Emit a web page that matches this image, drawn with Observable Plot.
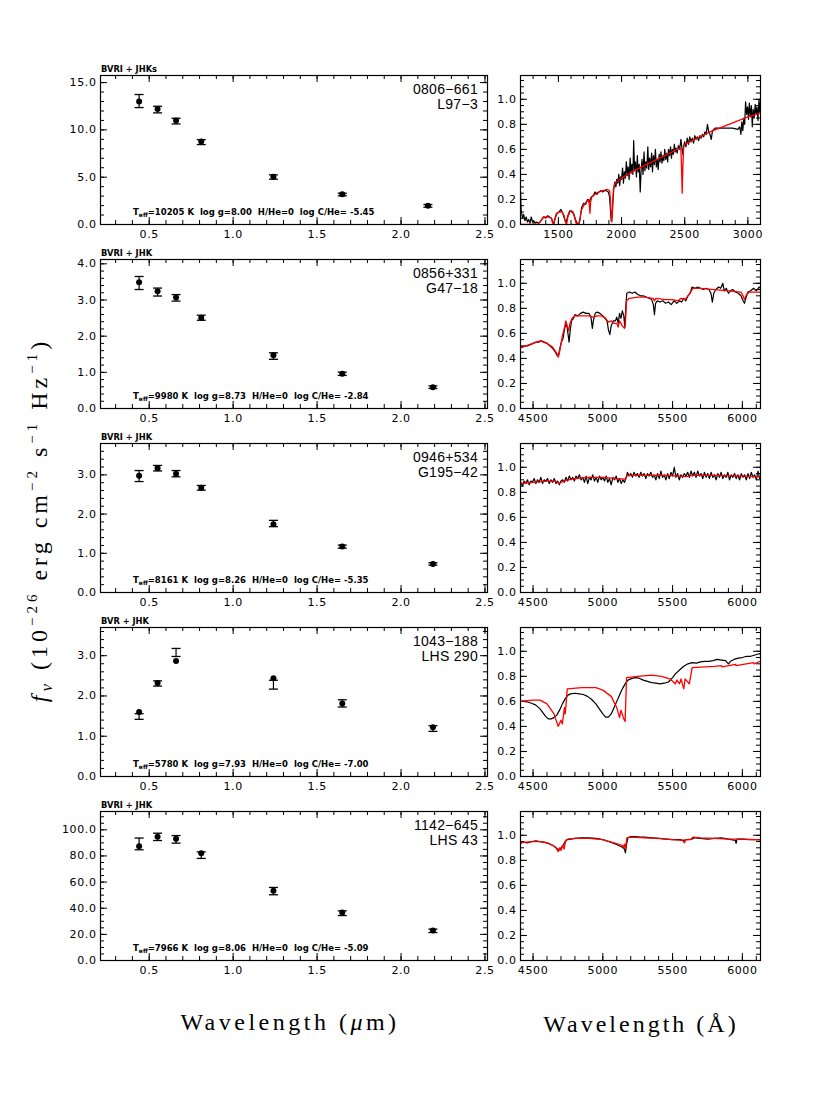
<!DOCTYPE html>
<html><head><meta charset="utf-8">
<script src="https://cdn.jsdelivr.net/npm/d3@7"></script>
<script src="https://cdn.jsdelivr.net/npm/@observablehq/plot@0.6"></script>
<style>
body{margin:0;background:#fff;}
#c{position:relative;width:830px;height:1106px;background:#fff;overflow:hidden;}
.plot{position:absolute;}
.band{position:absolute;font:bold 8.3px "DejaVu Sans",sans-serif;white-space:pre;}
.sid{position:absolute;font:14px "Liberation Sans",Arial,sans-serif;letter-spacing:0.3px;text-align:right;line-height:15px;}
.par{position:absolute;font:bold 8.5px "DejaVu Sans",sans-serif;white-space:pre;}
.par sub{font-size:6px;vertical-align:-2px;}
.title{position:absolute;font:24px "Liberation Serif",serif;letter-spacing:3.5px;white-space:nowrap;}
.title sup{font-size:15px;vertical-align:10px;}
.title sub{font-size:17px;vertical-align:-5px;}
</style></head><body><div id="c"></div><script>
// ---------------- photometry (left column) ----------------
const stars = ["0806\u2212661\nL97\u22123","0856+331\nG47\u221218","0946+534\nG195\u221242","1043\u2212188\nLHS 290","1142\u2212645\nLHS 43"];
const bandSets = ["BVRI + JHKs","BVRI + JHK","BVRI + JHK","BVR + JHK","BVRI + JHK"];
const fitParams = [
  ["10205","8.00","-5.45"],["9980","8.73","-2.84"],["8161","8.26","-5.35"],["5780","7.93","-7.00"],["7966","8.06","-5.09"]];

const p1Wave = [0.44,0.55,0.66,0.81,1.24,1.65,2.16];
const p1Obs  = [13.05,12.15,10.93,8.71,5.02,3.17,1.97];
const p1Err  = [0.69,0.35,0.30,0.26,0.23,0.14,0.14];
const p1Mod  = [12.99,12.22,10.99,8.77,5.04,3.20,1.97];

const p2Wave = [0.44,0.55,0.66,0.81,1.24,1.65,2.19];
const p2Obs  = [3.47,3.22,3.06,2.51,1.45,0.96,0.59];
const p2Err  = [0.18,0.11,0.09,0.07,0.09,0.045,0.035];
const p2Mod  = [3.49,3.24,3.07,2.51,1.47,0.96,0.59];

const p3Wave = [0.44,0.55,0.66,0.81,1.24,1.65,2.19];
const p3Obs  = [2.97,3.17,3.03,2.67,1.76,1.17,0.73];
const p3Err  = [0.14,0.07,0.08,0.06,0.08,0.04,0.03];
const p3Mod  = [2.98,3.17,3.03,2.67,1.74,1.17,0.73];

const p4Wave = [0.44,0.55,0.66,1.24,1.65,2.19];
const p4Obs  = [1.49,2.31,3.08,2.28,1.815,1.19];
const p4Err  = [0.07,0.065,0.10,0.11,0.09,0.07];
const p4Mod  = [1.60,2.32,2.87,2.44,1.81,1.22];

const p5Wave = [0.44,0.55,0.66,0.81,1.24,1.65,2.19];
const p5Obs  = [89.2,94.6,92.7,80.6,53.1,36.2,22.7];
const p5Err  = [4.5,2.8,2.9,2.5,2.8,1.8,1.3];
const p5Mod  = [87.5,94.6,93.1,82.1,53.3,36.7,23.0];

const photWaves = [p1Wave,p2Wave,p3Wave,p4Wave,p5Wave];
const photObs = [p1Obs,p2Obs,p3Obs,p4Obs,p5Obs];
const photErr = [p1Err,p2Err,p3Err,p4Err,p5Err];
const photMod = [p1Mod,p2Mod,p3Mod,p4Mod,p5Mod];

const leftXTicks = [0.5,1.0,1.5,2.0,2.5];
const leftYTicks = [[0,5,10,15],[0,1,2,3,4],[0,1,2,3],[0,1,2,3],[0,20,40,60,80,100]];
const leftYMinorStep = [1,0.2,0.2,0.2,5];
const leftYMax = [15.75,4.12,3.8,3.70,114];

// ---------------- spectra (right column) ----------------
const s1Obs = [[1200,0.26],[1205,0.12],[1215,0.05],[1225,0.08],[1235,0.03],[1245,0.06],[1255,0.02],[1265,0.04],[1275,0.01],[1285,0.06],[1295,0.02],[1305,0.03],[1315,0.01],[1325,0.02],[1340,0.01],[1355,0.02],[1370,0.04],[1385,0.06],[1400,0.05],[1415,0.07],[1430,0.06],[1445,0.05],[1455,0.02],[1465,0.01],[1475,0.05],[1490,0.09],[1505,0.10],[1520,0.12],[1535,0.09],[1550,0.04],[1562,0.02],[1575,0.07],[1590,0.11],[1605,0.10],[1620,0.09],[1635,0.04],[1648,0.01],[1660,0.00],[1672,0.05],[1685,0.14],[1700,0.17],[1715,0.16],[1730,0.20],[1745,0.18],[1760,0.22],[1775,0.23],[1790,0.26],[1805,0.24],[1820,0.26],[1835,0.27],[1850,0.26],[1865,0.27],[1880,0.27],[1895,0.26],[1905,0.22],[1912,0.12],[1918,0.03],[1925,0.06],[1932,0.20],[1940,0.30],[1948,0.34],[1955,0.30],[1962,0.36],[1970,0.33],[1978,0.40],[1985,0.31],[1992,0.38],[2000,0.36],[2008,0.45],[2015,0.33],[2022,0.42],[2030,0.37],[2038,0.50],[2045,0.39],[2052,0.46],[2060,0.36],[2068,0.53],[2075,0.41],[2082,0.48],[2090,0.40],[2096,0.67],[2103,0.43],[2110,0.50],[2118,0.38],[2125,0.55],[2132,0.42],[2140,0.48],[2148,0.26],[2155,0.44],[2162,0.52],[2170,0.40],[2178,0.58],[2185,0.43],[2192,0.50],[2200,0.45],[2208,0.62],[2215,0.44],[2222,0.53],[2230,0.46],[2238,0.57],[2245,0.42],[2252,0.55],[2260,0.48],[2268,0.60],[2275,0.46],[2282,0.52],[2290,0.44],[2298,0.56],[2305,0.50],[2312,0.58],[2320,0.49],[2328,0.55],[2335,0.51],[2342,0.60],[2350,0.52],[2358,0.57],[2365,0.50],[2372,0.60],[2380,0.55],[2388,0.62],[2395,0.53],[2402,0.60],[2410,0.56],[2418,0.64],[2425,0.58],[2432,0.61],[2440,0.57],[2450,0.63],[2460,0.60],[2470,0.68],[2478,0.61],[2485,0.56],[2492,0.63],[2500,0.66],[2510,0.62],[2520,0.69],[2530,0.64],[2540,0.70],[2550,0.66],[2560,0.69],[2570,0.65],[2580,0.71],[2590,0.68],[2600,0.70],[2610,0.67],[2620,0.71],[2630,0.69],[2640,0.72],[2650,0.70],[2660,0.74],[2670,0.72],[2680,0.80],[2690,0.74],[2700,0.72],[2710,0.68],[2720,0.75],[2730,0.76],[2740,0.77],[2760,0.77],[2800,0.77],[2840,0.77],[2880,0.77],[2920,0.76],[2935,0.78],[2945,0.72],[2952,0.82],[2960,0.75],[2968,0.85],[2975,0.80],[2982,0.98],[2990,0.88],[2998,0.94],[3005,0.84],[3012,0.97],[3020,0.86],[3028,0.95],[3035,0.78],[3042,0.92],[3050,0.85],[3058,0.96],[3065,0.88],[3072,0.94],[3080,0.83],[3088,1.00],[3095,0.90],[3100,0.97]];
const s1Mod = [[1200,0.0],[1340,0.0],[1360,0.03],[1380,0.06],[1420,0.06],[1445,0.05],[1455,0.01],[1462,0.0],[1470,0.04],[1485,0.09],[1510,0.10],[1530,0.10],[1545,0.07],[1555,0.02],[1565,0.0],[1575,0.06],[1590,0.10],[1605,0.11],[1615,0.10],[1630,0.05],[1640,0.01],[1660,0.0],[1670,0.03],[1680,0.11],[1700,0.15],[1720,0.18],[1740,0.20],[1745,0.15],[1750,0.09],[1755,0.18],[1765,0.22],[1800,0.25],[1850,0.27],[1890,0.28],[1905,0.27],[1912,0.20],[1918,0.08],[1923,0.02],[1928,0.10],[1935,0.28],[1945,0.32],[1960,0.34],[2000,0.37],[2100,0.43],[2200,0.48],[2300,0.53],[2400,0.58],[2460,0.61],[2470,0.60],[2475,0.45],[2480,0.25],[2485,0.45],[2492,0.62],[2500,0.64],[2600,0.69],[2700,0.74],[2800,0.78],[2900,0.82],[3000,0.86],[3100,0.89]];

const s2Obs = [[4400,0.48],[4410,0.50],[4420,0.49],[4440,0.50],[4460,0.50],[4480,0.51],[4500,0.52],[4520,0.53],[4540,0.53],[4560,0.54],[4580,0.53],[4600,0.52],[4620,0.50],[4640,0.48],[4660,0.45],[4675,0.42],[4685,0.44],[4700,0.52],[4715,0.56],[4725,0.63],[4735,0.68],[4742,0.66],[4750,0.60],[4758,0.53],[4766,0.62],[4775,0.70],[4790,0.72],[4800,0.75],[4820,0.74],[4840,0.76],[4860,0.77],[4880,0.76],[4900,0.76],[4915,0.73],[4925,0.64],[4932,0.70],[4945,0.76],[4960,0.77],[4980,0.76],[5000,0.74],[5015,0.72],[5030,0.70],[5040,0.63],[5050,0.59],[5060,0.66],[5075,0.70],[5090,0.70],[5100,0.73],[5110,0.68],[5120,0.76],[5130,0.72],[5140,0.78],[5150,0.74],[5158,0.65],[5165,0.82],[5172,0.92],[5190,0.93],[5210,0.92],[5230,0.93],[5250,0.91],[5270,0.90],[5290,0.90],[5310,0.89],[5330,0.88],[5350,0.87],[5362,0.83],[5370,0.75],[5378,0.84],[5390,0.86],[5410,0.85],[5430,0.86],[5450,0.84],[5470,0.85],[5490,0.83],[5510,0.86],[5530,0.84],[5550,0.86],[5565,0.85],[5580,0.88],[5595,0.86],[5610,0.90],[5625,0.92],[5640,0.97],[5660,0.96],[5680,0.97],[5700,0.96],[5720,0.95],[5740,0.96],[5760,0.95],[5775,0.92],[5785,0.85],[5795,0.92],[5810,0.95],[5830,0.97],[5845,0.96],[5860,1.00],[5870,0.94],[5885,0.96],[5900,0.92],[5915,0.94],[5930,0.95],[5950,0.93],[5970,0.92],[5990,0.90],[6005,0.86],[6015,0.84],[6025,0.88],[6040,0.93],[6060,0.94],[6080,0.96],[6100,0.94],[6120,0.97],[6140,0.95],[6160,0.97],[6180,0.95],[6200,0.96],[6220,0.95]];
const s2Mod = [[4400,0.48],[4450,0.50],[4500,0.52],[4550,0.54],[4600,0.52],[4640,0.49],[4670,0.44],[4682,0.41],[4695,0.48],[4710,0.58],[4722,0.63],[4735,0.70],[4745,0.66],[4755,0.62],[4765,0.68],[4780,0.72],[4800,0.74],[4850,0.74],[4900,0.74],[4930,0.73],[4960,0.74],[4990,0.74],[5020,0.72],[5040,0.69],[5060,0.70],[5080,0.68],[5100,0.68],[5110,0.65],[5120,0.70],[5140,0.66],[5155,0.64],[5162,0.68],[5170,0.86],[5190,0.88],[5250,0.89],[5300,0.89],[5360,0.88],[5370,0.86],[5380,0.88],[5450,0.87],[5500,0.87],[5540,0.86],[5560,0.88],[5590,0.87],[5610,0.90],[5630,0.93],[5645,0.96],[5700,0.96],[5800,0.95],[5900,0.94],[5990,0.93],[6005,0.90],[6015,0.87],[6030,0.91],[6050,0.93],[6150,0.93],[6200,0.92]];

const s3Obs = [[4400,0.86],[4412,0.88],[4424,0.85],[4436,0.89],[4448,0.87],[4460,0.90],[4472,0.86],[4484,0.89],[4496,0.88],[4508,0.91],[4520,0.87],[4532,0.90],[4544,0.88],[4556,0.92],[4568,0.87],[4580,0.90],[4592,0.89],[4604,0.91],[4616,0.87],[4628,0.90],[4640,0.88],[4652,0.91],[4664,0.87],[4676,0.89],[4688,0.86],[4700,0.89],[4712,0.90],[4724,0.88],[4736,0.92],[4748,0.89],[4760,0.93],[4772,0.90],[4784,0.92],[4796,0.89],[4808,0.93],[4820,0.91],[4832,0.94],[4844,0.90],[4856,0.92],[4868,0.88],[4880,0.93],[4892,0.87],[4904,0.92],[4916,0.90],[4928,0.94],[4940,0.89],[4952,0.92],[4964,0.88],[4976,0.93],[4988,0.90],[5000,0.92],[5012,0.89],[5024,0.93],[5036,0.88],[5048,0.91],[5060,0.86],[5072,0.92],[5084,0.90],[5096,0.93],[5108,0.88],[5120,0.91],[5132,0.87],[5144,0.90],[5156,0.88],[5168,0.92],[5176,0.96],[5188,0.93],[5200,0.95],[5212,0.92],[5224,0.96],[5236,0.93],[5248,0.95],[5260,0.92],[5272,0.96],[5284,0.93],[5296,0.95],[5308,0.91],[5320,0.95],[5332,0.93],[5344,0.96],[5356,0.92],[5368,0.94],[5380,0.90],[5392,0.95],[5404,0.91],[5416,0.97],[5428,0.92],[5440,0.94],[5452,0.90],[5464,0.95],[5476,0.91],[5488,0.96],[5500,0.93],[5512,1.00],[5524,0.92],[5536,0.95],[5548,0.90],[5560,0.94],[5572,0.92],[5584,0.95],[5596,0.93],[5608,0.96],[5620,0.92],[5632,0.97],[5644,0.93],[5656,0.96],[5668,0.92],[5680,0.97],[5692,0.93],[5704,0.95],[5716,0.91],[5728,0.96],[5740,0.92],[5752,0.95],[5764,0.91],[5776,0.96],[5788,0.92],[5800,0.94],[5812,0.90],[5824,0.95],[5836,0.92],[5848,0.96],[5860,0.91],[5872,0.94],[5884,0.92],[5896,0.96],[5908,0.90],[5920,0.94],[5932,0.92],[5944,0.95],[5956,0.91],[5968,0.94],[5980,0.90],[5992,0.95],[6004,0.92],[6016,0.94],[6028,0.90],[6040,0.95],[6052,0.91],[6064,0.96],[6076,0.92],[6088,0.94],[6100,0.90],[6112,0.97],[6124,0.91],[6136,0.94],[6148,0.90],[6160,0.93],[6172,0.89],[6184,0.95],[6196,0.90],[6208,0.93],[6220,0.91]];
const s3Mod = [[4400,0.87],[4500,0.88],[4600,0.89],[4660,0.89],[4685,0.87],[4700,0.88],[4750,0.90],[4800,0.91],[4900,0.92],[5000,0.92],[5100,0.91],[5160,0.905],[5175,0.935],[5300,0.935],[5450,0.935],[5550,0.93],[5600,0.925],[5640,0.935],[5800,0.935],[6000,0.93],[6100,0.925],[6220,0.92]];

const s4Obs = [[4400,0.60],[4430,0.60],[4460,0.595],[4490,0.585],[4520,0.57],[4550,0.54],[4570,0.51],[4590,0.48],[4610,0.46],[4630,0.46],[4650,0.47],[4670,0.49],[4690,0.53],[4710,0.58],[4730,0.62],[4750,0.65],[4770,0.66],[4800,0.665],[4830,0.66],[4860,0.655],[4890,0.64],[4920,0.615],[4950,0.58],[4975,0.54],[5000,0.50],[5020,0.475],[5040,0.475],[5060,0.50],[5080,0.55],[5100,0.60],[5120,0.65],[5140,0.70],[5160,0.74],[5180,0.77],[5200,0.78],[5230,0.79],[5260,0.785],[5290,0.77],[5320,0.76],[5350,0.75],[5380,0.745],[5410,0.74],[5440,0.745],[5470,0.755],[5500,0.79],[5520,0.82],[5550,0.85],[5580,0.88],[5610,0.90],[5640,0.91],[5670,0.905],[5700,0.915],[5730,0.92],[5760,0.92],[5790,0.925],[5820,0.935],[5850,0.93],[5880,0.925],[5900,0.90],[5915,0.92],[5940,0.935],[5970,0.945],[6000,0.95],[6030,0.96],[6060,0.96],[6090,0.97],[6120,0.98],[6150,0.985],[6180,0.99],[6200,0.985],[6220,0.98]];
const s4Mod = [[4400,0.60],[4500,0.61],[4550,0.61],[4600,0.58],[4650,0.50],[4680,0.40],[4700,0.45],[4710,0.42],[4725,0.55],[4730,0.50],[4736,0.57],[4745,0.70],[4850,0.71],[4950,0.71],[5000,0.69],[5060,0.64],[5100,0.55],[5120,0.47],[5130,0.53],[5150,0.46],[5160,0.44],[5170,0.79],[5250,0.80],[5350,0.81],[5420,0.80],[5480,0.78],[5520,0.74],[5530,0.77],[5550,0.74],[5560,0.78],[5580,0.70],[5590,0.78],[5620,0.74],[5640,0.87],[5800,0.88],[5850,0.885],[5855,0.875],[5950,0.895],[5955,0.885],[6080,0.91],[6085,0.90],[6150,0.93],[6200,0.94]];

const s5Obs = [[4400,0.93],[4430,0.945],[4460,0.94],[4490,0.95],[4520,0.955],[4550,0.95],[4580,0.945],[4610,0.935],[4640,0.92],[4660,0.905],[4675,0.89],[4685,0.88],[4700,0.90],[4715,0.92],[4730,0.95],[4745,0.965],[4770,0.97],[4800,0.975],[4850,0.98],[4900,0.98],[4950,0.975],[5000,0.965],[5040,0.95],[5080,0.935],[5110,0.92],[5140,0.905],[5155,0.89],[5162,0.86],[5170,0.93],[5180,0.98],[5200,0.99],[5230,0.99],[5270,0.985],[5300,0.985],[5350,0.98],[5400,0.975],[5450,0.97],[5500,0.965],[5550,0.965],[5580,0.96],[5600,0.965],[5640,0.97],[5660,0.98],[5700,0.975],[5750,0.97],[5800,0.975],[5850,0.98],[5900,0.97],[5950,0.96],[5955,0.935],[5962,0.97],[6000,0.97],[6050,0.965],[6100,0.965],[6150,0.965],[6200,0.96],[6220,0.96]];
const s5Mod = [[4400,0.94],[4450,0.945],[4500,0.95],[4550,0.95],[4600,0.94],[4640,0.92],[4665,0.90],[4680,0.87],[4690,0.90],[4700,0.88],[4712,0.92],[4722,0.89],[4735,0.96],[4750,0.97],[4800,0.975],[4900,0.975],[5000,0.965],[5080,0.94],[5120,0.925],[5140,0.92],[5148,0.90],[5155,0.93],[5162,0.89],[5172,0.98],[5200,0.985],[5300,0.98],[5400,0.975],[5500,0.965],[5570,0.96],[5585,0.94],[5595,0.965],[5630,0.965],[5645,0.985],[5700,0.98],[5800,0.975],[5900,0.97],[6000,0.97],[6100,0.965],[6220,0.96]];

const specObs = [s1Obs,s2Obs,s3Obs,s4Obs,s5Obs];
const specMod = [s1Mod,s2Mod,s3Mod,s4Mod,s5Mod];
const rightXDomains = [[1200,3100],[4410,6130],[4410,6130],[4410,6130],[4410,6130]];
const rightXTicks = [[1500,2000,2500,3000],[4500,5000,5500,6000],[4500,5000,5500,6000],[4500,5000,5500,6000],[4500,5000,5500,6000]];
const rightYTicks = [0,0.2,0.4,0.6,0.8,1.0];

// ---------------- layout ----------------
const container = document.getElementById("c");
const FRAME_TOP0 = 75, ROW_STEP = 184, FH = 149;
const L_X0 = 100, L_FW = 387, R_X0 = 520, R_FW = 240;
const MT = 20, MB = 28;

function minorTicks(domain, step){
  const out=[]; const n0=Math.ceil(domain[0]/step-1e-9), n1=Math.floor(domain[1]/step+1e-9);
  for(let i=n0;i<=n1;i++) out.push(+(i*step).toFixed(6));
  return out;
}
const capSymbol = {draw(ctx, size){ const r=Math.sqrt(size/Math.PI); ctx.moveTo(-r,0); ctx.lineTo(r,0);} };

function tickMarks(xMajor,xMinor,yMajor,yMinor,fw,fh){
  const M=7, m=4, st={stroke:"black",strokeWidth:1};
  return [
    Plot.ruleY(yMajor,{...st,insetRight:fw-M}), Plot.ruleY(yMajor,{...st,insetLeft:fw-M}),
    Plot.ruleY(yMinor,{...st,insetRight:fw-m}), Plot.ruleY(yMinor,{...st,insetLeft:fw-m}),
    Plot.ruleX(xMajor,{...st,insetTop:fh-M}), Plot.ruleX(xMajor,{...st,insetBottom:fh-M}),
    Plot.ruleX(xMinor,{...st,insetTop:fh-m}), Plot.ruleX(xMinor,{...st,insetBottom:fh-m})
  ];
}

function place(svg, left, top){
  svg.classList.add("plot");
  svg.style.left = left+"px"; svg.style.top = top+"px";
  container.appendChild(svg);
}

const tickStyle = {fontFamily:'"DejaVu Sans",sans-serif',fontSize:"11px",color:"black",background:"transparent",overflow:"visible",letterSpacing:"0.6px"};

for(let i=0;i<5;i++){
  const ft = FRAME_TOP0 + i*ROW_STEP;
  // left panel
  const xd=[0.21,2.515], yd=[0,leftYMax[i]];
  const obs = photWaves[i].map((w,k)=>({w, f:photObs[i][k], e:photErr[i][k]}));
  const mod = photWaves[i].map((w,k)=>({w, f:photMod[i][k]}));
  const xMin = minorTicks(xd,0.1), yMin = minorTicks(yd,leftYMinorStep[i]);
  const mL = 60, mR = 13;
  const left = Plot.plot({
    width: mL+L_FW+mR, height: MT+FH+MB, marginLeft:mL, marginRight:mR, marginTop:MT, marginBottom:MB,
    x:{domain:xd}, y:{domain:yd}, style: tickStyle,
    marks:[
      ...tickMarks(leftXTicks,xMin,leftYTicks[i],yMin,L_FW,FH),
      Plot.link(obs,{x1:"w",x2:"w",y1:d=>d.f-d.e,y2:d=>d.f+d.e,stroke:"black",strokeWidth:1.2}),
      Plot.dot(obs,{x:"w",y:d=>d.f+d.e,symbol:capSymbol,r:4.5,fill:"none",stroke:"black",strokeWidth:1.3}),
      Plot.dot(obs,{x:"w",y:d=>d.f-d.e,symbol:capSymbol,r:4.5,fill:"none",stroke:"black",strokeWidth:1.3}),
      Plot.dot(mod,{x:"w",y:"f",r:3,fill:"black",stroke:"none"}),
      Plot.frame({stroke:"black",strokeWidth:1.2}),
      Plot.axisX(leftXTicks,{tickSize:0,tickPadding:6,tickFormat:d=>d.toFixed(1),label:null}),
      Plot.axisY(leftYTicks[i],{tickSize:0,tickPadding:4,tickFormat:d=>d.toFixed(1),label:null})
    ]
  });
  place(left, L_X0-mL, ft-MT);

  // right panel
  const rxd = rightXDomains[i], ryd=[0,1.19];
  const rmL=40, rmR=20;
  const right = Plot.plot({
    width: rmL+R_FW+rmR, height: MT+FH+MB, marginLeft:rmL, marginRight:rmR, marginTop:MT, marginBottom:MB,
    x:{domain:rxd}, y:{domain:ryd}, style: tickStyle,
    marks:[
      ...tickMarks(rightXTicks[i],minorTicks(rxd,100),rightYTicks,minorTicks(ryd,0.05),R_FW,FH),
      Plot.line(specObs[i],{x:d=>d[0],y:d=>d[1],stroke:"black",strokeWidth:1.2,clip:true}),
      Plot.line(specMod[i],{x:d=>d[0],y:d=>d[1],stroke:"#ff0000",strokeWidth:1.3,clip:true}),
      Plot.frame({stroke:"black",strokeWidth:1.2}),
      Plot.axisX(rightXTicks[i],{tickSize:0,tickPadding:6,tickFormat:d=>String(d),label:null}),
      Plot.axisY(rightYTicks,{tickSize:0,tickPadding:4,tickFormat:d=>d.toFixed(1),label:null})
    ]
  });
  place(right, R_X0-rmL, ft-MT);

  // annotations
  const b = document.createElement("div"); b.className="band"; b.textContent=bandSets[i];
  b.style.left="101px"; b.style.top=(ft-11)+"px"; container.appendChild(b);
  const s = document.createElement("div"); s.className="sid";
  s.innerHTML = stars[i].split("\n").join("<br>");
  s.style.right=(830-478)+"px"; s.style.top=(ft+7)+"px"; container.appendChild(s);
  const p = document.createElement("div"); p.className="par";
  const [T,g,c] = fitParams[i];
  p.innerHTML = `T<sub>eff</sub>=${T} K  log g=${g}  H/He=0  log C/He= ${c}`;
  p.style.left="133px"; p.style.top=(ft+132)+"px"; container.appendChild(p);
}

// axis titles
const t1=document.createElement("div"); t1.className="title"; t1.innerHTML="Wavelength (<i>\u03bc</i>m)";
t1.style.left="290px"; t1.style.top="1022px"; t1.style.transform="translate(-50%,-50%)"; container.appendChild(t1);
const t2=document.createElement("div"); t2.className="title"; t2.innerHTML="Wavelength (\u00c5)";
t2.style.left="641px"; t2.style.top="1024px"; t2.style.letterSpacing="3px"; t2.style.transform="translate(-50%,-50%)"; container.appendChild(t2);
const t3=document.createElement("div"); t3.className="title"; t3.style.letterSpacing="4px";
t3.innerHTML="<i>f</i><sub><i>\u03bd</i></sub> (10<sup>\u221226</sup> erg cm<sup>\u22122</sup> s<sup>\u22121</sup> Hz<sup>\u22121</sup>)";
t3.style.left="40px"; t3.style.top="520px"; t3.style.transform="translate(-50%,-50%) rotate(-90deg)"; container.appendChild(t3);
</script></body></html>
